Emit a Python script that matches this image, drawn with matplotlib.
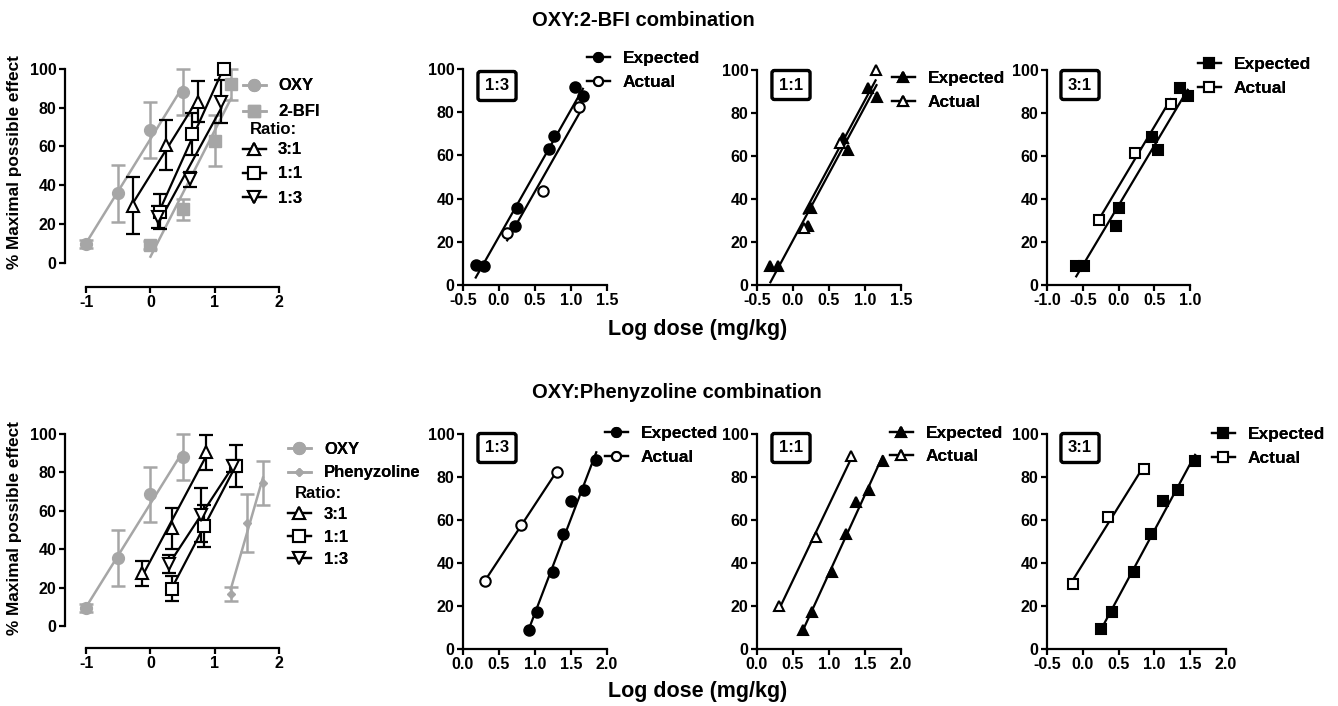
import numpy as np
import matplotlib
matplotlib.use('Agg')
import matplotlib.pyplot as plt
from matplotlib.lines import Line2D
from matplotlib.ticker import FormatStrFormatter

plt.rcParams['font.family'] = ['Liberation Sans', 'DejaVu Sans']
plt.rcParams['font.weight'] = 'bold'
plt.rcParams['axes.unicode_minus'] = False

# ---- OXY:2-BFI, dose-response (mean +/- SEM) ----
oxy_x = [-1.0, -0.5, 0.0, 0.5]
oxy_y = [9.5, 35.7, 68.6, 88.0]
oxy_err = [2.0, 14.5, 14.5, 12.0]

bfi_x = [0.0, 0.5, 1.0, 1.25]
bfi_y = [9.0, 27.5, 63.0, 92.0]
bfi_err = [2.0, 5.5, 13.0, 8.0]

bfi_r31_x = [-0.27, 0.236, 0.74]
bfi_r31_y = [29.4, 60.8, 83.2]
bfi_r31_err = [14.6, 13.0, 10.5]
bfi_r11_x = [0.148, 0.65, 1.147]
bfi_r11_y = [26.3, 66.5, 100.0]
bfi_r11_err = [9.0, 11.0, 0.0]
bfi_r13_x = [0.12, 0.61, 1.1]
bfi_r13_y = [23.6, 43.0, 83.2]
bfi_r13_err = [5.5, 4.0, 11.0]

# ---- OXY:Phenyzoline, dose-response ----
phe_x = [1.25, 1.5, 1.75]
phe_y = [16.8, 53.6, 74.7]
phe_err = [3.5, 15.0, 11.5]

phe_r31_x = [-0.136, 0.33, 0.87]
phe_r31_y = [27.7, 51.0, 90.5]
phe_r31_err = [6.5, 10.7, 9.0]
phe_r11_x = [0.33, 0.83, 1.33]
phe_r11_y = [19.5, 52.2, 83.4]
phe_r11_err = [6.5, 11.0, 11.0]
phe_r13_x = [0.29, 0.785, 1.29]
phe_r13_y = [32.4, 58.0, 83.4]
phe_r13_err = [4.5, 14.0, 3.0]

# ---- expected vs actual (2-BFI) ----
b13_exp_x = [-0.323, -0.212, 0.22, 0.244, 0.70, 0.765, 1.058, 1.165]
b13_exp_y = [9.3, 9.0, 27.5, 35.5, 62.9, 68.8, 91.5, 87.3]
b13_act_x = [0.114, 0.605, 1.114]
b13_act_y = [24.0, 43.3, 82.2]
b11_exp_x = [-0.314, -0.208, 0.21, 0.256, 0.697, 0.767, 1.045, 1.16]
b11_exp_y = [8.8, 8.8, 27.4, 35.7, 68.5, 62.8, 91.5, 87.6]
b11_act_x = [0.15, 0.65, 1.147]
b11_act_y = [26.4, 66.2, 100.0]
b31_exp_x = [-0.591, -0.479, -0.033, 0.0, 0.474, 0.549, 0.86, 0.967]
b31_exp_y = [9.0, 9.0, 27.6, 35.7, 69.0, 62.8, 91.8, 87.9]
b31_act_x = [-0.279, 0.233, 0.73]
b31_act_y = [30.2, 61.2, 84.0]

# ---- expected vs actual (Phenyzoline) ----
p13_exp_x = [0.916, 1.023, 1.256, 1.386, 1.498, 1.674, 1.851]
p13_exp_y = [9.0, 17.0, 35.6, 53.6, 68.9, 74.0, 87.9]
p13_act_x = [0.302, 0.805, 1.302]
p13_act_y = [31.4, 57.7, 82.4]
p11_exp_x = [0.64, 0.766, 1.044, 1.23, 1.374, 1.559, 1.745]
p11_exp_y = [9.0, 17.0, 35.8, 53.6, 68.6, 74.0, 87.6]
p11_act_x = [0.306, 0.826, 1.304]
p11_act_y = [19.8, 52.0, 89.8]
p31_exp_x = [0.257, 0.406, 0.722, 0.95, 1.126, 1.326, 1.568]
p31_exp_y = [9.3, 17.2, 35.8, 53.6, 68.9, 74.0, 87.6]
p31_act_x = [-0.142, 0.346, 0.857]
p31_act_y = [30.2, 61.3, 83.7]

GRAY = '#a6a6a6'
W, H = 1338, 706
fig = plt.figure(figsize=(W / 100, H / 100), dpi=100)


def add_ax(l, t, r, b):
    return fig.add_axes([l / W, 1 - b / H, (r - l) / W, (b - t) / H])


def fx(px):
    return px / W


def fy(py):
    return 1 - py / H


def style(ax):
    for s in ('top', 'right'):
        ax.spines[s].set_visible(False)
    for s in ('left', 'bottom'):
        ax.spines[s].set_linewidth(1.6)
    ax.tick_params(direction='out', length=4.5, width=1.6, labelsize=11.5, pad=1.5)
    ax.set_yticks([0, 20, 40, 60, 80, 100])
    ax.patch.set_visible(False)


def reg_line(x, y, slope=None):
    x = np.asarray(x)
    y = np.asarray(y)
    if slope is None:
        slope = np.polyfit(x, y, 1)[0]
    b = y.mean() - slope * x.mean()
    xs = np.array([x.min(), x.max()])
    return xs, slope * xs + b


def pooled_slope(x1, y1, x2, y2):
    x1, y1, x2, y2 = map(np.asarray, (x1, y1, x2, y2))
    sxy = ((x1 - x1.mean()) * (y1 - y1.mean())).sum() + ((x2 - x2.mean()) * (y2 - y2.mean())).sum()
    sxx = ((x1 - x1.mean()) ** 2).sum() + ((x2 - x2.mean()) ** 2).sum()
    return sxy / sxx


def dose_panel(ax, drug, drug_marker, drug_ms, ratios, ybottom):
    ax.set_xlim(-1.33, 2.0)
    ax.set_ylim(ybottom, 100)
    style(ax)
    ax.spines['left'].set_bounds(0, 100)
    ax.spines['bottom'].set_bounds(-1, 2)
    ax.set_xticks([-1, 0, 1, 2])
    for (x, y, e), mk, ms in [((oxy_x, oxy_y, oxy_err), 'o', 8.5), (drug, drug_marker, drug_ms)]:
        ax.errorbar(x, y, yerr=e, fmt='none', ecolor=GRAY, elinewidth=1.8, capsize=5, capthick=1.8, clip_on=False)
        lx, ly = reg_line(x, y)
        ax.plot(lx, ly, color=GRAY, lw=1.8, clip_on=False)
        ax.plot(x, y, mk, color=GRAY, ms=ms, clip_on=False, zorder=3)
    for (x, y, e), mk in zip(ratios, ['^', 's', 'v']):
        ax.errorbar(x, y, yerr=e, fmt='none', ecolor='black', elinewidth=1.6, capsize=5, capthick=1.6, clip_on=False)
        lx, ly = reg_line(x, y)
        ax.plot(lx, ly, color='black', lw=1.6, clip_on=False)
        ax.plot(x, y, mk, mfc='white', mec='black', mew=1.5, ms=8.5, clip_on=False, zorder=4)


# top-left
ax = add_ax(65, 69, 279, 287)
dose_panel(ax, (bfi_x, bfi_y, bfi_err), 's', 8,
           [(bfi_r31_x, bfi_r31_y, bfi_r31_err), (bfi_r11_x, bfi_r11_y, bfi_r11_err),
            (bfi_r13_x, bfi_r13_y, bfi_r13_err)], -12.6)

# bottom-left
ax = add_ax(65, 434, 279, 648)
dose_panel(ax, (phe_x, phe_y, phe_err), 'D', 4.5,
           [(phe_r31_x, phe_r31_y, phe_r31_err), (phe_r11_x, phe_r11_y, phe_r11_err),
            (phe_r13_x, phe_r13_y, phe_r13_err)], -11.2)


def left_legend(drug_name, drug_marker, drug_ms, x0, tx, rows, ratio_x):
    h1 = [Line2D([], [], color=GRAY, lw=1.8, marker='o', ms=8.5),
          Line2D([], [], color=GRAY, lw=1.8, marker=drug_marker, ms=drug_ms)]
    fs = 12
    fpx = fs * 100 / 72
    hl = 1.35
    pad = (tx - x0) / fpx - hl
    leg = fig.legend(h1, ['OXY', drug_name], loc='center left', frameon=False,
                     bbox_to_anchor=(fx(x0), fy((rows[0] + rows[1]) / 2 + 1)), fontsize=fs,
                     handlelength=hl, handletextpad=pad, borderpad=0, borderaxespad=0,
                     labelspacing=(rows[1] - rows[0]) / fpx - 0.9)
    fig.add_artist(leg)
    fig.text(fx(ratio_x), fy(rows[2] + 1), 'Ratio:', fontsize=fs, va='center', ha='left')
    h2 = [Line2D([], [], color='black', lw=1.6, marker=m, mfc='white', mec='black', mew=1.5, ms=8)
          for m in ['^', 's', 'v']]
    leg2 = fig.legend(h2, ['3:1', '1:1', '1:3'], loc='center left', frameon=False,
                      bbox_to_anchor=(fx(x0), fy(rows[4] + 1)), fontsize=fs,
                      handlelength=hl, handletextpad=pad, borderpad=0, borderaxespad=0,
                      labelspacing=(rows[5] - rows[3]) / 2 / fpx - 0.86)
    fig.add_artist(leg2)


left_legend('2-BFI', 's', 8, 243, 278, [85, 111, 129, 150, 173, 197], 250)
left_legend('Phenyzoline', 'D', 4.5, 288, 324, [448, 472, 493, 513, 536, 557], 295)


def combo_panel(box, xlim, xticks, exp, act, marker, ms, tag, tag_xy, leg_x, leg_rows, parallel):
    ax = add_ax(*box)
    ax.set_xlim(*xlim)
    ax.set_ylim(0, 100)
    style(ax)
    ax.set_xticks(xticks)
    ax.xaxis.set_major_formatter(FormatStrFormatter('%.1f'))
    slope_e = slope_a = None
    if parallel:
        slope_e = slope_a = pooled_slope(exp[0], exp[1], act[0], act[1])
    for (x, y), s, face in [(exp, slope_e, 'black'), (act, slope_a, 'white')]:
        lx, ly = reg_line(x, y, s)
        ax.plot(lx, ly, color='black', lw=1.6, clip_on=False)
        ax.plot(x, y, marker, mfc=face, mec='black', mew=1.5, ms=ms, clip_on=False, zorder=4, ls='none')
    fig.text(fx(tag_xy[0]), fy(tag_xy[1]), tag, fontsize=12, ha='center', va='center',
             bbox=dict(boxstyle='round,pad=0.42,rounding_size=0.15', fc='white', ec='black', lw=2.4))
    handles = [Line2D([], [], color='black', lw=1.6, marker=marker, mfc=f, mec='black', mew=1.5, ms=ms - 1)
               for f in ('black', 'white')]
    fs = 12.5
    fpx = fs * 100 / 72
    hl = 1.3
    pad = 13 / fpx
    leg = fig.legend(handles, ['Expected', 'Actual'], loc='center left', frameon=False,
                     bbox_to_anchor=(fx(leg_x), fy((leg_rows[0] + leg_rows[1]) / 2)), fontsize=fs,
                     handlelength=hl, handletextpad=pad, borderpad=0, borderaxespad=0,
                     labelspacing=(leg_rows[1] - leg_rows[0]) / fpx - 0.92)
    fig.add_artist(leg)
    return ax


t05 = [-0.5, 0.0, 0.5, 1.0, 1.5]
combo_panel((463, 69, 607, 285), (-0.5, 1.5), t05, (b13_exp_x, b13_exp_y), (b13_act_x, b13_act_y),
            'o', 7.5, '1:3', (497, 86), 587, (58, 83), True)
combo_panel((757, 70, 901, 285), (-0.5, 1.5), t05, (b11_exp_x, b11_exp_y), (b11_act_x, b11_act_y),
            '^', 7.5, '1:1', (791, 85), 892, (78, 103), True)
combo_panel((1047, 70, 1190, 285), (-1.0, 1.0), [-1.0, -0.5, 0.0, 0.5, 1.0], (b31_exp_x, b31_exp_y),
            (b31_act_x, b31_act_y), 's', 7.5, '3:1', (1080, 85), 1198, (64, 89), True)

t20 = [0.0, 0.5, 1.0, 1.5, 2.0]
combo_panel((463, 434, 607, 649), (0.0, 2.0), t20, (p13_exp_x, p13_exp_y), (p13_act_x, p13_act_y),
            'o', 7.5, '1:3', (497, 448), 605, (433, 458), False)
combo_panel((757, 434, 901, 649), (0.0, 2.0), t20, (p11_exp_x, p11_exp_y), (p11_act_x, p11_act_y),
            '^', 7.5, '1:1', (791, 448), 890, (433, 457), False)
combo_panel((1047, 434, 1226, 649), (-0.5, 2.0), [-0.5, 0.0, 0.5, 1.0, 1.5, 2.0], (p31_exp_x, p31_exp_y),
            (p31_act_x, p31_act_y), 's', 7.5, '3:1', (1080, 448), 1212, (434, 459), False)

# titles and shared labels
fig.text(fx(643), fy(21), 'OXY:2-BFI combination', fontsize=14.5, ha='center', va='center')
fig.text(fx(677), fy(393), 'OXY:Phenyzoline combination', fontsize=14.5, ha='center', va='center')
fig.text(fx(698), fy(330), 'Log dose (mg/kg)', fontsize=15.5, ha='center', va='center')
fig.text(fx(698), fy(692), 'Log dose (mg/kg)', fontsize=15.5, ha='center', va='center')
fig.text(fx(15), fy(162), '% Maximal possible effect', fontsize=12.4, rotation=90, ha='center', va='center')
fig.text(fx(15), fy(528), '% Maximal possible effect', fontsize=12.4, rotation=90, ha='center', va='center')

fig.savefig('out.png', dpi=100, facecolor='white')
